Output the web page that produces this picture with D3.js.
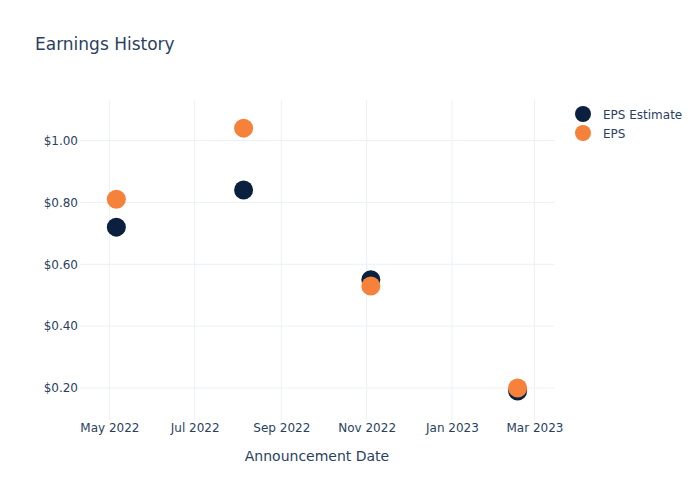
<!DOCTYPE html>
<html>
<head>
<meta charset="utf-8">
<script src="https://cdn.jsdelivr.net/npm/d3@7"></script>
<style>
  body { margin: 0; background: #fff; }
  text { font-family: "DejaVu Sans", Verdana, sans-serif; }
</style>
</head>
<body>
<div id="chart"></div>
<script>
const width = 700;
const height = 500;
const margin = { top: 100, right: 146, bottom: 80, left: 80 };

// data
const dates = ["2022-05-06", "2022-08-05", "2022-11-04", "2023-02-17"];
const epsEstimate = [0.72, 0.84, 0.55, 0.19];
const epsActual = [0.81, 1.04, 0.53, 0.20];
const yTicks = [0.2, 0.4, 0.6, 0.8, 1.0];
const seriesNames = ["EPS Estimate", "EPS"];
const seriesColors = ["#0b1f3f", "#f5813a"];

const parseDate = d3.timeParse("%Y-%m-%d");

const svg = d3.select("#chart").append("svg")
    .attr("width", width)
    .attr("height", height);

const xScale = d3.scaleTime()
    .domain([parseDate("2022-04-10"), parseDate("2023-03-15")])
    .range([margin.left, width - margin.right]);

const yScale = d3.scaleLinear()
    .domain([0.0966, 1.131])
    .range([height - margin.bottom, margin.top]);

const gridColor = "#ebf0f8";
const textColor = "#2a3f5f";

// x grid + ticks
const xTicks = d3.timeMonth.every(2).range(parseDate("2022-05-01"), parseDate("2023-03-02"));

svg.append("g")
    .selectAll("line")
    .data(xTicks)
    .join("line")
    .attr("x1", d => xScale(d))
    .attr("x2", d => xScale(d))
    .attr("y1", margin.top)
    .attr("y2", height - margin.bottom)
    .attr("stroke", gridColor)
    .attr("stroke-width", 1);

svg.append("g")
    .selectAll("line")
    .data(yTicks)
    .join("line")
    .attr("x1", margin.left)
    .attr("x2", width - margin.right)
    .attr("y1", d => yScale(d))
    .attr("y2", d => yScale(d))
    .attr("stroke", gridColor)
    .attr("stroke-width", 1);

const xAxis = d3.axisBottom(xScale)
    .tickValues(xTicks)
    .tickFormat(d3.timeFormat("%b %Y"))
    .tickSize(0)
    .tickPadding(3);

svg.append("g")
    .attr("transform", `translate(0,${height - margin.bottom})`)
    .call(xAxis)
    .call(g => g.select(".domain").remove())
    .selectAll("text")
    .attr("font-size", "12px")
    .attr("fill", textColor)
    .style("font-family", "DejaVu Sans");

const yAxis = d3.axisLeft(yScale)
    .tickValues(yTicks)
    .tickFormat(d3.format("$.2f"))
    .tickSize(0)
    .tickPadding(2);

svg.append("g")
    .attr("transform", `translate(${margin.left},0)`)
    .call(yAxis)
    .call(g => g.select(".domain").remove())
    .selectAll("text")
    .attr("font-size", "12px")
    .attr("fill", textColor)
    .style("font-family", "DejaVu Sans");

// points: estimate first, EPS drawn on top
[epsEstimate, epsActual].forEach((values, i) => {
    svg.append("g")
        .selectAll("circle")
        .data(values)
        .join("circle")
        .attr("cx", (d, j) => xScale(parseDate(dates[j])))
        .attr("cy", d => yScale(d))
        .attr("r", 9.5)
        .attr("fill", seriesColors[i]);
});

// title
svg.append("text")
    .attr("x", 35)
    .attr("y", 50)
    .attr("font-size", "17px")
    .attr("fill", textColor)
    .text("Earnings History");

// axis title
svg.append("text")
    .attr("x", (margin.left + width - margin.right) / 2)
    .attr("y", 461)
    .attr("text-anchor", "middle")
    .attr("font-size", "14px")
    .attr("fill", textColor)
    .text("Announcement Date");

// legend
const legend = svg.append("g")
    .attr("transform", "translate(583,114)");

legend.selectAll("circle")
    .data(seriesNames)
    .join("circle")
    .attr("cx", 0)
    .attr("cy", (d, i) => i * 19)
    .attr("r", 8)
    .attr("fill", (d, i) => seriesColors[i]);

legend.selectAll("text")
    .data(seriesNames)
    .join("text")
    .attr("x", 20)
    .attr("y", (d, i) => i * 19 + 4.5)
    .attr("font-size", "12px")
    .attr("fill", textColor)
    .text(d => d);
</script>
</body>
</html>
